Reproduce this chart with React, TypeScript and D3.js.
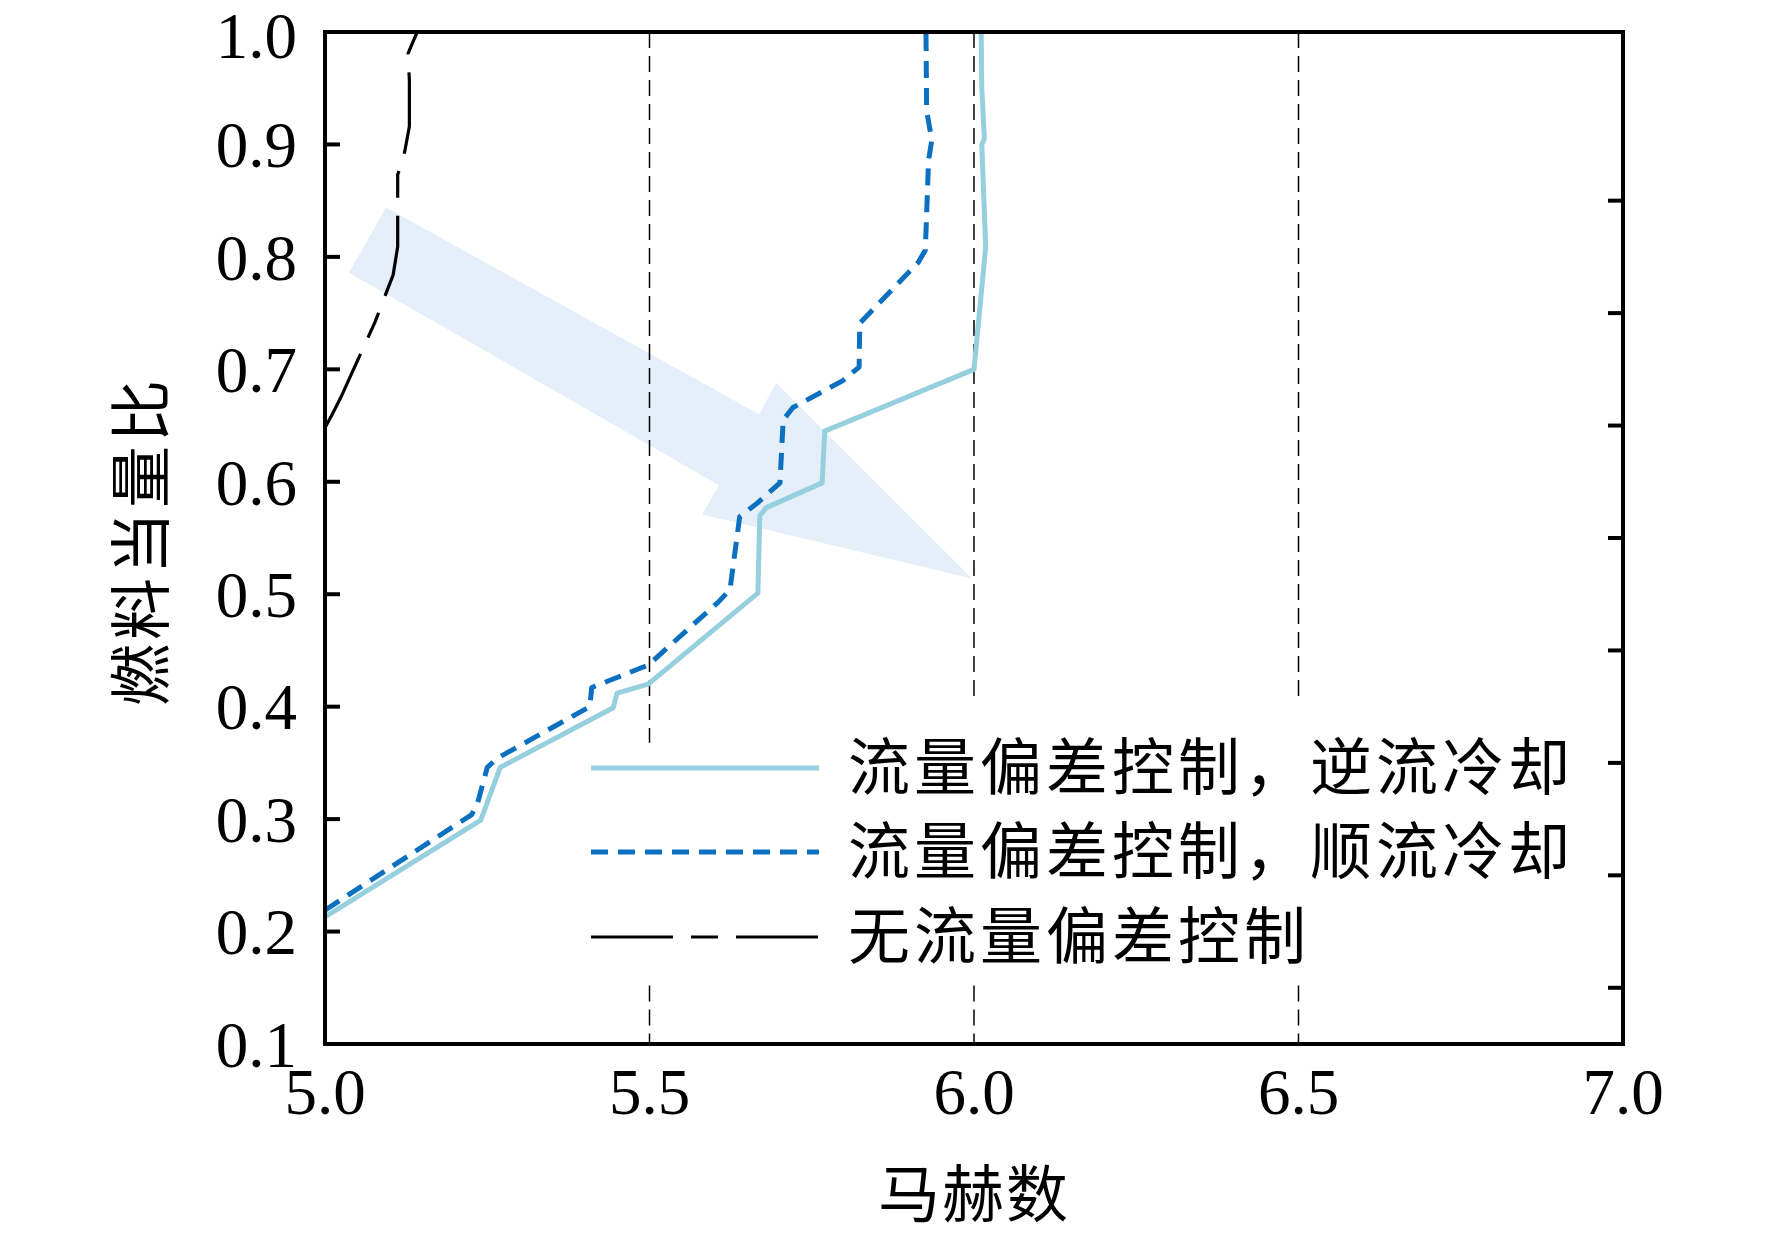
import React from 'react'
import * as d3 from 'd3'

// axis ticks
const machTicks = [5.0, 5.5, 6.0, 6.5, 7.0]
const phiTicks = [0.1, 0.2, 0.3, 0.4, 0.5, 0.6, 0.7, 0.8, 0.9, 1.0]
const rightTicks = [0.15, 0.25, 0.35, 0.45, 0.55, 0.65, 0.75, 0.85]

// 流量偏差控制，逆流冷却
const counterMach = [5.0, 5.24, 5.27, 5.444, 5.45, 5.498, 5.667, 5.67, 5.68, 5.766, 5.77, 6.0, 6.018, 6.012, 6.016, 6.012, 6.011]
const counterPhi = [0.213, 0.299, 0.346, 0.399, 0.412, 0.42, 0.501, 0.57, 0.577, 0.599, 0.645, 0.7, 0.809, 0.9, 0.905, 0.95, 1.0]

// 流量偏差控制，顺流冷却
const coMach = [5.0, 5.226, 5.235, 5.25, 5.265, 5.408, 5.411, 5.498, 5.606, 5.624, 5.639, 5.666, 5.701, 5.706, 5.721, 5.798, 5.823, 5.824, 5.914, 5.925, 5.93, 5.935, 5.927, 5.926]
const coPhi = [0.219, 0.304, 0.314, 0.346, 0.354, 0.4, 0.417, 0.437, 0.493, 0.504, 0.569, 0.581, 0.599, 0.655, 0.666, 0.69, 0.702, 0.741, 0.795, 0.806, 0.886, 0.904, 0.93, 1.0]

// 无流量偏差控制
const noneMach = [5.0, 5.012, 5.026, 5.077, 5.105, 5.112, 5.112, 5.122, 5.13, 5.13, 5.128, 5.142]
const nonePhi = [0.648, 0.661, 0.677, 0.742, 0.784, 0.809, 0.873, 0.891, 0.916, 0.957, 0.981, 1.0]

// reference lines (x) and their visible spans
const refMach = [5.5, 6.0, 6.5]
const refTopEnd = [0.368, 0.406, 0.406]
const refBottomStart = [0.152, 0.152, 0.152]

// annotation arrow outline, in data units
const arrowMach = [5.094, 5.669, 5.695, 5.997, 5.581, 5.607, 5.037]
const arrowPhi = [0.844, 0.66, 0.688, 0.514, 0.571, 0.597, 0.786]

const series = [
  { label: '流量偏差控制，逆流冷却', mach: counterMach, phi: counterPhi, color: '#96CFDD', width: 5, dash: '' },
  { label: '流量偏差控制，顺流冷却', mach: coMach, phi: coPhi, color: '#0A70BF', width: 5, dash: '17 10' },
  { label: '无流量偏差控制', mach: noneMach, phi: nonePhi, color: '#000000', width: 3.2, dash: '82 18 27 18' },
]
const drawOrder = [2, 0, 1]

const W = 1772
const H = 1235
const L = 325
const R = 1623
const T = 32
const B = 1044

const serif = '"Liberation Serif", "Times New Roman", serif'
const cjk = '"Noto Sans CJK SC", sans-serif'

export default function App() {
  const x = d3.scaleLinear().domain([5, 7]).range([L, R])
  const y = d3.scaleLinear().domain([0.1, 1.0]).range([B, T])

  const line = d3
    .line<[number, number]>()
    .x((d) => x(d[0]))
    .y((d) => y(d[1]))

  const arrowPath = line(arrowMach.map((m, i) => [m, arrowPhi[i]] as [number, number])) + 'Z'

  return (
    <svg width={W} height={H} style={{ position: 'absolute', left: 0, top: 0, background: '#fff' }}>
      <defs>
        <clipPath id="plot">
          <rect x={L} y={T} width={R - L} height={B - T} />
        </clipPath>
      </defs>
      <rect width={W} height={H} fill="#fff" />

      <g clipPath="url(#plot)">
        <path d={arrowPath} fill="#E4EFF9" />

        {refMach.map((m, i) => (
          <g key={i} stroke="#000" strokeWidth={1.5} strokeDasharray="16 8">
            <line x1={x(m)} x2={x(m)} y1={y(1.0)} y2={y(refTopEnd[i])} />
            <line x1={x(m)} x2={x(m)} y1={y(refBottomStart[i])} y2={y(0.1)} />
          </g>
        ))}

        {drawOrder.map((k) => {
          const s = series[k]
          const pts = s.mach.map((m, i) => [m, s.phi[i]] as [number, number])
          return (
            <path
              key={k}
              d={line(pts) || ''}
              fill="none"
              stroke={s.color}
              strokeWidth={s.width}
              strokeDasharray={s.dash || undefined}
              strokeLinejoin="round"
            />
          )
        })}
      </g>

      {/* frame */}
      <rect x={L} y={T} width={R - L} height={B - T} fill="none" stroke="#000" strokeWidth={4} />

      {/* left ticks, inward */}
      {phiTicks.map((t) => (
        <line key={t} x1={L} x2={L + 15} y1={y(t)} y2={y(t)} stroke="#000" strokeWidth={4} />
      ))}
      {/* right ticks, inward */}
      {rightTicks.map((t) => (
        <line key={t} x1={R - 15} x2={R} y1={y(t)} y2={y(t)} stroke="#000" strokeWidth={4} />
      ))}

      {phiTicks.map((t) => (
        <text
          key={t}
          x={L - 28}
          y={y(t) + (t === 1.0 ? 3 : 0)}
          dy="0.35em"
          textAnchor="end"
          fontFamily={serif}
          fontSize={65}
          fill="#000"
        >
          {t.toFixed(1)}
        </text>
      ))}
      {machTicks.map((t) => (
        <text key={t} x={x(t)} y={1114} textAnchor="middle" fontFamily={serif} fontSize={65} fill="#000">
          {t.toFixed(1)}
        </text>
      ))}

      <text x={974} y={1217} textAnchor="middle" fontFamily={cjk} fontSize={62} letterSpacing={2} fill="#000">
        马赫数
      </text>
      <text
        transform="translate(164,541) rotate(-90)"
        textAnchor="middle"
        fontFamily={cjk}
        fontSize={62}
        letterSpacing={4}
        fill="#000"
      >
        燃料当量比
      </text>

      {/* legend */}
      {series.map((s, i) => {
        const ly = [768, 852, 937][i]
        return (
          <g key={i}>
            <line
              x1={591}
              x2={819}
              y1={ly}
              y2={ly}
              stroke={s.color}
              strokeWidth={s.width}
              strokeDasharray={s.dash || undefined}
            />
            <text x={848} y={ly} dy="0.36em" fontFamily={cjk} fontSize={62} letterSpacing={4} fill="#000">
              {s.label}
            </text>
          </g>
        )
      })}
    </svg>
  )
}
